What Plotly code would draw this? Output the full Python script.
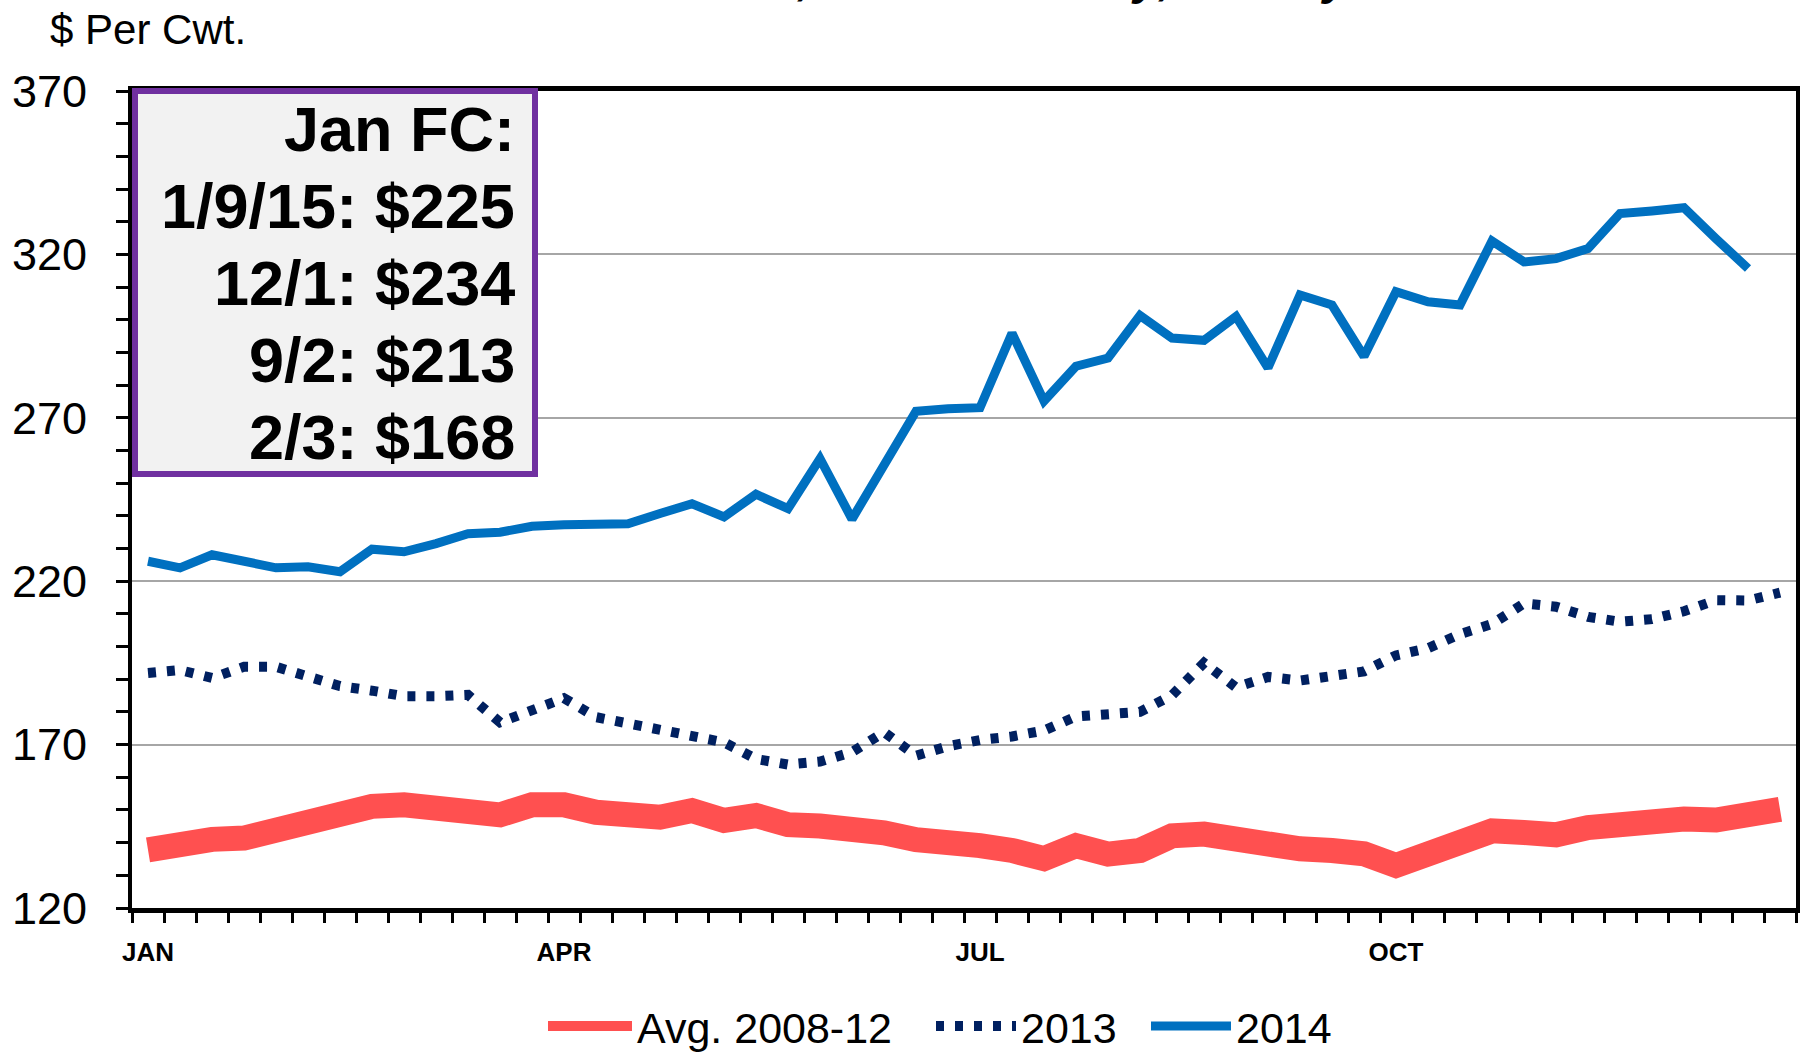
import plotly.graph_objects as go

# ---------------- data ----------------
weeks = list(range(1, 53))
month_ticks = [1, 14, 27, 40]
month_labels = ["JAN", "APR", "JUL", "OCT"]

avg_2008_12 = [137.8, 140.0, 141.0, 141.4, 143.7, 147.5, 149.1, 151.1, 151.6, 150.9,
               150.1, 148.5, 151.6, 151.6, 149.3, 149.3, 147.8, 149.8, 146.8, 148.3,
               145.5, 145.1, 144.4, 143.0, 140.9, 140.8, 139.1, 137.6, 135.1, 139.1,
               136.5, 137.6, 142.1, 142.6, 140.8, 140.6, 138.1, 137.6, 136.6, 133.0,
               136.6, 138.6, 143.6, 143.1, 142.4, 144.6, 145.7, 147.2, 147.2, 146.9,
               148.7, 150.2]

y2013 = [191.9, 192.8, 190.4, 193.8, 193.8, 190.6, 187.9, 186.5, 184.8, 184.8,
         185.2, 176.8, 180.7, 184.2, 178.4, 176.5, 174.5, 172.5, 170.7, 165.6,
         163.9, 164.8, 167.7, 173.8, 166.6, 169.5, 171.4, 172.5, 174.3, 178.6,
         179.0, 180.0, 185.1, 195.0, 187.5, 190.7, 189.6, 190.7, 192.4, 197.3,
         199.5, 203.8, 206.9, 213.2, 212.2, 209.1, 207.6, 208.4, 210.8, 214.2,
         214.1, 216.5]

y2014 = [226.1, 224.1, 228.1, 226.0, 224.1, 224.4, 222.9, 229.8, 229.0, 231.5,
         234.5, 235.0, 236.8, 237.3, 237.6, 237.6, 240.7, 243.7, 239.7, 246.6,
         242.2, 257.5, 239.0, 255.5, 272.0, 272.8, 273.1, 295.9, 275.1, 285.8,
         288.3, 301.3, 294.4, 293.7, 301.0, 285.3, 307.6, 304.5, 288.8, 308.6,
         305.5, 304.5, 324.1, 317.7, 318.7, 321.8, 332.5, 333.3, 334.3, 324.8,
         315.7]

series_names = ["Avg. 2008-12", "2013", "2014"]
box_lines = ["Jan FC:", "1/9/15: $225", "12/1: $234", "9/2: $213", "2/3: $168"]
y_title = "$ Per Cwt."
chart_title = "Feeder Steers, Oklahoma City, Weekly"

# ---------------- layout geometry ----------------
W, H = 1801, 1053
L, R, T, B = 132, 5, 91, 145
PW = W - L - R
PH = H - T - B


def px_x(px):
    return (px - L) / PW


def px_y(py):
    return (H - B - py) / PH


NARROW = "Liberation Sans Narrow, Arial Narrow, Liberation Sans, Arial, sans-serif"
BOLD = "Liberation Sans, Arial, sans-serif"
LEG_FONT = dict(family=NARROW, size=43, color="black")

fig = go.Figure()
fig.add_trace(go.Scatter(x=weeks[:len(avg_2008_12)], y=avg_2008_12, mode="lines",
                         name=series_names[0], legend="legend",
                         line=dict(color="#FF5050", width=25)))
fig.add_trace(go.Scatter(x=weeks[:len(y2013)], y=y2013, mode="lines",
                         name=series_names[1], legend="legend2",
                         line=dict(color="#002060", width=10, dash="8px,11px")))
fig.add_trace(go.Scatter(x=weeks[:len(y2014)], y=y2014, mode="lines",
                         name=series_names[2], legend="legend3",
                         line=dict(color="#0070C0", width=9)))

leg_y = px_y(1026)


def leg(x_px, w=80):
    return dict(orientation="h", x=px_x(x_px), xanchor="left", y=leg_y,
                yanchor="middle", font=LEG_FONT, itemwidth=w,
                bgcolor="rgba(0,0,0,0)", borderwidth=0)


fig.update_layout(
    width=W, height=H,
    margin=dict(l=L, r=R, t=T, b=B, pad=0, autoexpand=False),
    paper_bgcolor="white", plot_bgcolor="white",
    showlegend=True,
    legend=leg(543, 84), legend2=leg(931), legend3=leg(1146),
    xaxis=dict(range=[0.5, 52.5], showgrid=False, zeroline=False,
               showline=True, linecolor="black", linewidth=5, mirror=True,
               tickmode="array", tickvals=month_ticks, ticktext=month_labels,
               ticks="", ticklabelstandoff=17,
               tickfont=dict(family=NARROW, size=26, color="black", weight="bold"),
               minor=dict(tick0=0.5, dtick=1, ticks="outside", ticklen=10,
                          tickwidth=3, tickcolor="black", showgrid=False)),
    yaxis=dict(range=[120, 370], dtick=50, tick0=120, showgrid=True,
               gridcolor="#A6A6A6", gridwidth=2, zeroline=False,
               showline=True, linecolor="black", linewidth=4, mirror=True,
               ticks="outside", ticklen=12, tickwidth=3, tickcolor="black",
               ticklabelstandoff=20,
               tickfont=dict(family=NARROW, size=45, color="black"),
               minor=dict(dtick=10, ticks="outside", ticklen=12, tickwidth=3,
                          tickcolor="black", showgrid=False)),
)

# forecast box
fig.add_shape(type="rect", xref="paper", yref="paper",
              x0=px_x(135), x1=px_x(535), y0=px_y(474), y1=px_y(91),
              line=dict(color="#7030A0", width=6), fillcolor="#F2F2F2", layer="above")

line_centers = [129, 206, 283, 360, 437]
for txt, cy in zip(box_lines, line_centers):
    fig.add_annotation(xref="paper", yref="paper", x=px_x(517), y=px_y(cy),
                       xanchor="right", yanchor="middle", showarrow=False,
                       text=txt, font=dict(family=BOLD, size=63, color="black",
                                           weight="bold"))

# y axis title
fig.add_annotation(xref="paper", yref="paper", x=px_x(48), y=px_y(29),
                   xanchor="left", yanchor="middle", showarrow=False,
                   text=y_title, font=dict(family=NARROW, size=42, color="black"))

# chart title (mostly cut off at the top edge in the original)
fig.add_annotation(xref="paper", yref="paper", x=px_x(916), y=px_y(5.5),
                   xanchor="center", yanchor="bottom", showarrow=False,
                   text="<i>" + chart_title + "</i>",
                   font=dict(family=BOLD, size=48, color="black", weight="bold"))

fig.write_html("out.html", config={"displayModeBar": False},
               post_script="document.body.style.margin='0';")
